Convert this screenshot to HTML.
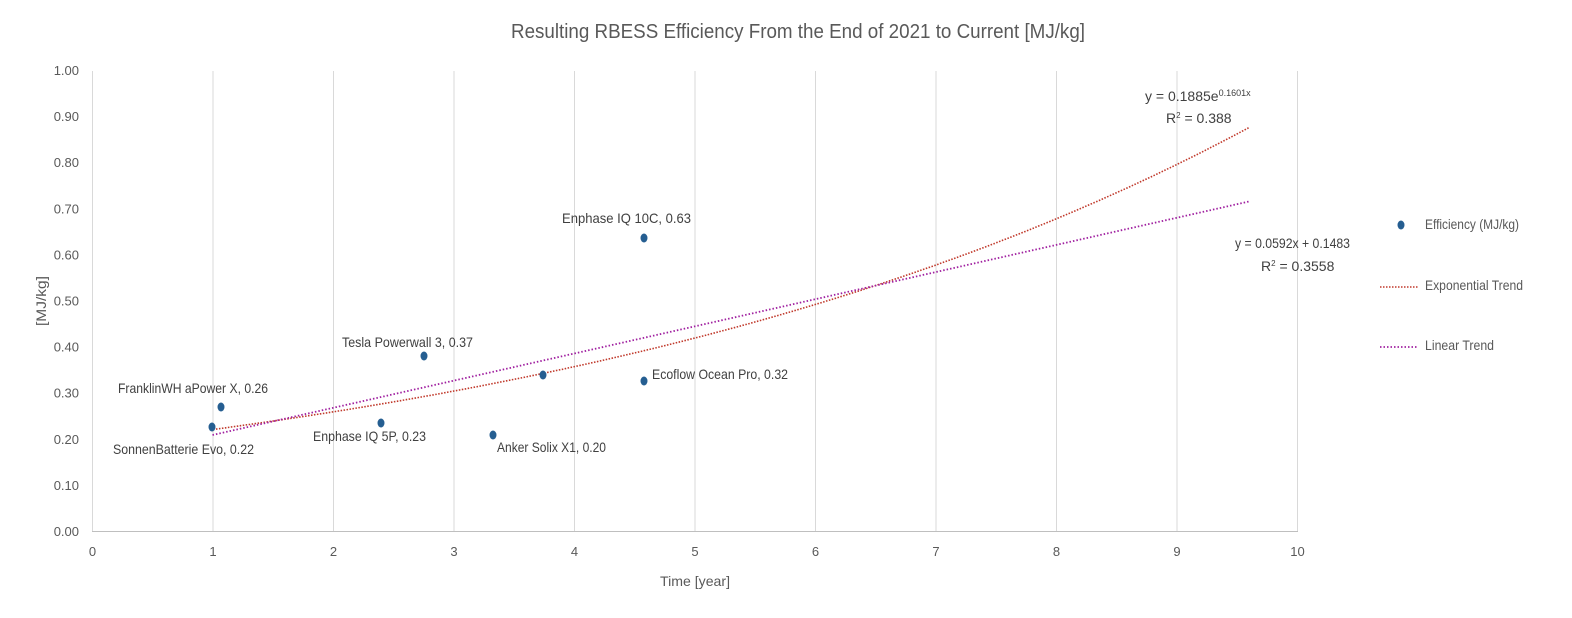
<!DOCTYPE html>
<html><head><meta charset="utf-8"><style>
html,body{margin:0;padding:0;background:#fff;}
svg{display:block;font-family:"Liberation Sans Narrow","Liberation Sans",sans-serif;}
text{fill:#595959;font-size:13px;}
.lab text{fill:#404040;font-size:14px;}
.leg{font-size:14px;}
</style></head><body>
<svg id="s" width="1572" height="618" viewBox="0 0 1572 618">
<text x="798" y="38" text-anchor="middle" style="font-size:20px" textLength="574" lengthAdjust="spacingAndGlyphs">Resulting RBESS Efficiency From the End of 2021 to Current [MJ/kg]</text>
<g id="grid" stroke="#d9d9d9" stroke-width="1"></g>
<line x1="92.5" y1="71" x2="92.5" y2="531.5" stroke="#d9d9d9"/>
<line x1="92" y1="531.5" x2="1298" y2="531.5" stroke="#bfbfbf"/>
<g id="yl"></g><g id="xl"></g>
<text x="0" y="0" transform="translate(46,301) rotate(-90)" text-anchor="middle" style="font-size:14px" textLength="50" lengthAdjust="spacingAndGlyphs">[MJ/kg]</text>
<text x="695" y="586" text-anchor="middle" style="font-size:14px" textLength="70" lengthAdjust="spacingAndGlyphs">Time [year]</text>
<path id="exp" fill="none" stroke="#c0392b" stroke-width="1.6" stroke-dasharray="1.5 1.5"/>
<line x1="212.5" y1="435" x2="1249" y2="201.5" stroke="#a020a0" stroke-width="1.8" stroke-dasharray="1.5 2"/>
<g fill="#255e91">
<ellipse cx="212" cy="427" rx="3.5" ry="4.5"/><ellipse cx="221" cy="407" rx="3.5" ry="4.5"/>
<ellipse cx="381" cy="423" rx="3.5" ry="4.5"/><ellipse cx="424" cy="356" rx="3.5" ry="4.5"/>
<ellipse cx="493" cy="435" rx="3.5" ry="4.5"/><ellipse cx="543" cy="375" rx="3.5" ry="4.5"/>
<ellipse cx="644" cy="238" rx="3.5" ry="4.5"/><ellipse cx="644" cy="381" rx="3.5" ry="4.5"/>
</g>
<g class="lab">
<text x="118" y="393" textLength="150" lengthAdjust="spacingAndGlyphs">FranklinWH aPower X, 0.26</text>
<text x="113" y="454" textLength="141" lengthAdjust="spacingAndGlyphs">SonnenBatterie Evo, 0.22</text>
<text x="313" y="441" textLength="113" lengthAdjust="spacingAndGlyphs">Enphase IQ 5P, 0.23</text>
<text x="342" y="347" textLength="131" lengthAdjust="spacingAndGlyphs">Tesla Powerwall 3, 0.37</text>
<text x="497" y="452" textLength="109" lengthAdjust="spacingAndGlyphs">Anker Solix X1, 0.20</text>
<text x="652" y="379" textLength="136" lengthAdjust="spacingAndGlyphs">Ecoflow Ocean Pro, 0.32</text>
<text x="562" y="223" textLength="129" lengthAdjust="spacingAndGlyphs">Enphase IQ 10C, 0.63</text>
<text x="1145" y="101">y = 0.1885e<tspan dy="-5" style="font-size:9px">0.1601x</tspan></text>
<text x="1166" y="123">R<tspan dy="-5" style="font-size:8px">2</tspan><tspan dy="5"> = 0.388</tspan></text>
<text x="1235" y="248" textLength="115" lengthAdjust="spacingAndGlyphs">y = 0.0592x + 0.1483</text>
<text x="1261" y="271">R<tspan dy="-5" style="font-size:8px">2</tspan><tspan dy="5"> = 0.3558</tspan></text>
</g>
<ellipse cx="1401" cy="225" rx="3.5" ry="4.5" fill="#255e91"/>
<text class="leg" x="1425" y="229" textLength="94" lengthAdjust="spacingAndGlyphs">Efficiency (MJ/kg)</text>
<line x1="1380" y1="287" x2="1418" y2="287" stroke="#c0392b" stroke-width="1.6" stroke-dasharray="1.5 1.5"/>
<text class="leg" x="1425" y="290" textLength="98" lengthAdjust="spacingAndGlyphs">Exponential Trend</text>
<line x1="1380" y1="347" x2="1418" y2="347" stroke="#a020a0" stroke-width="1.8" stroke-dasharray="1.5 2"/>
<text class="leg" x="1425" y="350" textLength="69" lengthAdjust="spacingAndGlyphs">Linear Trend</text>
</svg>
<script>
var ns="http://www.w3.org/2000/svg",X=function(v){return 92.5+v*120.5},Y=function(v){return 531.5-v*461};
var g=document.getElementById('grid'),yl=document.getElementById('yl'),xl=document.getElementById('xl');
for(var i=1;i<=10;i++){var l=document.createElementNS(ns,'line');l.setAttribute('x1',X(i));l.setAttribute('x2',X(i));l.setAttribute('y1',71);l.setAttribute('y2',531.5);g.appendChild(l);}
for(var i=0;i<=10;i++){var t=document.createElementNS(ns,'text');t.setAttribute('x',79);t.setAttribute('y',Y(i/10)+4.5);t.setAttribute('text-anchor','end');t.textContent=(i/10).toFixed(2);yl.appendChild(t);
var u=document.createElementNS(ns,'text');u.setAttribute('x',X(i));u.setAttribute('y',556);u.setAttribute('text-anchor','middle');u.textContent=i;xl.appendChild(u);}
var d='';for(var x=1;x<=9.6001;x+=0.05){d+=(d?'L':'M')+X(x).toFixed(1)+','+Y(0.1885*Math.exp(0.1601*x)).toFixed(1);}
document.getElementById('exp').setAttribute('d',d);
</script>
</body></html>
